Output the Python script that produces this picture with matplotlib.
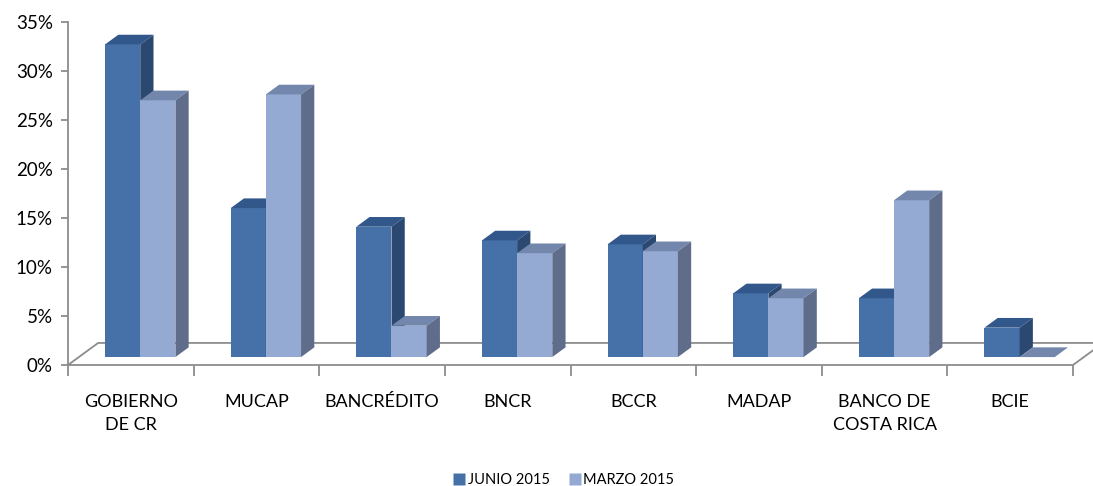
import matplotlib
matplotlib.use("Agg")
import matplotlib.pyplot as plt
from matplotlib.patches import Polygon, Rectangle
from matplotlib.lines import Line2D

plt.rcParams['font.family'] = ['Lato', 'DejaVu Sans']

# Data (percent)
categories = ["GOBIERNO\nDE CR", "MUCAP", "BANCRÉDITO", "BNCR", "BCCR",
              "MADAP", "BANCO DE\nCOSTA RICA", "BCIE"]
junio_2015 = [31.9, 15.2, 13.3, 11.9, 11.5, 6.5, 6.0, 3.0]
marzo_2015 = [26.2, 26.8, 3.2, 10.6, 10.8, 6.0, 16.0, 0.0]
series_names = ["JUNIO 2015", "MARZO 2015"]
y_ticks = [0, 5, 10, 15, 20, 25, 30, 35]

# Colours: front, top, side
JUNIO_COLORS = ("#4571A8", "#32578A", "#2B4870")
MARZO_COLORS = ("#95AAD3", "#7287AB", "#5F6D8A")
AXIS_GRAY = "#8C8C8C"

# 3D look (in data units)
FLOOR_DX, FLOOR_DY = 0.24, 2.25
BAR_Z0, BAR_Z1 = 0.36, 0.80
BAR_W = 0.28
BAR_OFFSET = 0.295

fig = plt.figure(figsize=(10.93, 4.86), dpi=100)
ax = fig.add_axes([68 / 1093, 1 - 365 / 486, 1005 / 1093, 343 / 486])
ax.set_xlim(0, len(categories))
ax.set_ylim(0, 35)
for s in ax.spines.values():
    s.set_visible(False)

# floor outline + value axis
floor_x = [0, len(categories), len(categories) + FLOOR_DX, FLOOR_DX, 0]
floor_y = [0, 0, FLOOR_DY, FLOOR_DY, 0]
ax.plot(floor_x, floor_y, color=AXIS_GRAY, lw=1.3, clip_on=False, zorder=1)
ax.plot([0, 0], [0, 35], color=AXIS_GRAY, lw=1.3, clip_on=False, zorder=1)


def draw_bar(x0, value, colors):
    # front face, top face and right side face of one column
    front, top, side = colors
    by = BAR_Z0 * FLOOR_DY
    ddx = (BAR_Z1 - BAR_Z0) * FLOOR_DX
    ddy = (BAR_Z1 - BAR_Z0) * FLOOR_DY
    h = by + value
    ax.add_patch(Rectangle((x0, by), BAR_W, value, facecolor=front,
                           edgecolor="none", clip_on=False, zorder=3))
    ax.add_patch(Polygon([(x0, h), (x0 + BAR_W, h), (x0 + BAR_W + ddx, h + ddy),
                          (x0 + ddx, h + ddy)], closed=True, facecolor=top,
                         edgecolor="none", clip_on=False, zorder=3))
    ax.add_patch(Polygon([(x0 + BAR_W, by), (x0 + BAR_W + ddx, by + ddy),
                          (x0 + BAR_W + ddx, h + ddy), (x0 + BAR_W, h)],
                         closed=True, facecolor=side, edgecolor="none",
                         clip_on=False, zorder=3))


for i in range(len(categories)):
    x0 = i + BAR_OFFSET
    draw_bar(x0, junio_2015[i], JUNIO_COLORS)
    draw_bar(x0 + BAR_W, marzo_2015[i], MARZO_COLORS)

# ticks
ax.set_yticks(y_ticks)
ax.set_yticklabels([f"{t}%" for t in y_ticks], fontsize=13.5)
ax.tick_params(axis="y", length=5, color=AXIS_GRAY, width=1.3, pad=6)
ax.set_xticks(range(len(categories) + 1))
ax.set_xticklabels([])
ax.tick_params(axis="x", which="major", length=8, color=AXIS_GRAY, width=1.3)
ax.set_xticks([i + 0.5 for i in range(len(categories))], minor=True)
ax.set_xticklabels(categories, minor=True, fontsize=13, linespacing=1.5)
ax.tick_params(axis="x", which="minor", length=0, pad=21)

handles = [Line2D([], [], marker="s", linestyle="none", markersize=8,
                  markerfacecolor=c[0], markeredgecolor="none")
           for c in (JUNIO_COLORS, MARZO_COLORS)]
fig.legend(handles, series_names, loc="center", bbox_to_anchor=(563 / 1093, 1 - 480 / 486),
           ncol=2, frameon=False, fontsize=10.5, handletextpad=0.1, columnspacing=1.2,
           handlelength=1.0)

fig.savefig("out.png", dpi=100)
